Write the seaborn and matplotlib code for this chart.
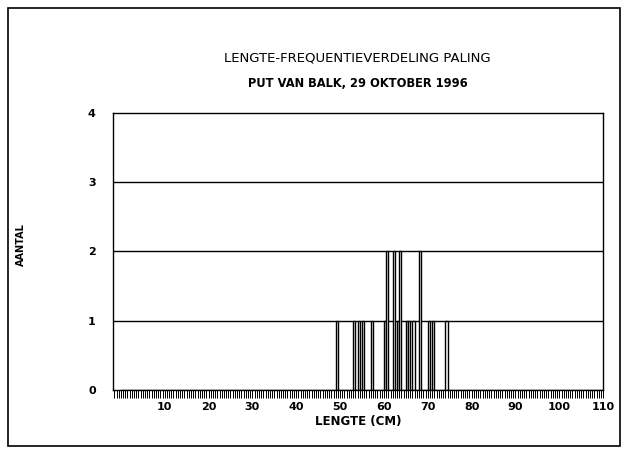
import numpy as np
import pandas as pd
import matplotlib
matplotlib.use('Agg')
import matplotlib.pyplot as plt
from matplotlib.patches import Rectangle
from matplotlib.ticker import MultipleLocator
import seaborn as sns

# Lengths (cm) of the individual eels
lengtes = [49, 53, 54, 55, 57, 60, 60.5, 60.5, 62, 62, 63, 63.5, 63.5,
           65, 65.5, 66.5, 68, 68, 70, 71, 74]
x_ticks = [10, 20, 30, 40, 50, 60, 70, 80, 90, 100, 110]
y_ticks = [0, 1, 2, 3, 4]

df = pd.DataFrame({'lengte': lengtes})

sns.set_style('white')
plt.rcParams['font.family'] = ['DejaVu Sans']
plt.rcParams['text.color'] = 'black'
plt.rcParams['xtick.color'] = 'black'
plt.rcParams['ytick.color'] = 'black'
plt.rcParams['axes.labelcolor'] = 'black'

fig = plt.figure(figsize=(6.26, 4.55), dpi=100)
ax = fig.add_axes([0.1805, 0.1429, 0.783, 0.609])

sns.histplot(data=df, x='lengte', binwidth=0.5, binrange=(0, 110), shrink=1.0,
             color='white', edgecolor='black', linewidth=1.0, alpha=1, ax=ax)

ax.set_xlim(-1.8, 110)
ax.set_ylim(0, 4)
ax.set_yticks(y_ticks)
ax.set_xticks(x_ticks)
ax.xaxis.set_minor_locator(MultipleLocator(0.5))
for y in [1, 2, 3]:
    ax.axhline(y, color='black', linewidth=1.0, zorder=0)

ax.tick_params(axis='x', which='both', direction='out', length=6, width=0.7,
               bottom=True, labelsize=8, pad=3)
ax.tick_params(axis='y', which='both', left=False, labelsize=8, pad=9)
for lab in ax.get_xticklabels() + ax.get_yticklabels():
    lab.set_fontweight('bold')
for s in ax.spines.values():
    s.set_visible(True)
    s.set_color('black')
    s.set_linewidth(1.0)

ax.set_xlabel('LENGTE (CM)', fontsize=8.5, fontweight='bold', labelpad=2)
ax.set_ylabel('')
fig.text(0.033, 0.462, 'AANTAL', rotation=90, fontsize=7, fontweight='bold',
         ha='center', va='center')

fig.text(0.571, 0.872, 'LENGTE-FREQUENTIEVERDELING PALING', fontsize=9.5,
         ha='center', va='center')
fig.text(0.571, 0.817, 'PUT VAN BALK, 29 OKTOBER 1996', fontsize=8.3,
         fontweight='bold', ha='center', va='center')

# outer frame of the original sheet
fig.patches.append(Rectangle((0.013, 0.02), 0.977, 0.962, transform=fig.transFigure,
                             fill=False, edgecolor='black', linewidth=1.2))

fig.savefig('out.png', dpi=100)
